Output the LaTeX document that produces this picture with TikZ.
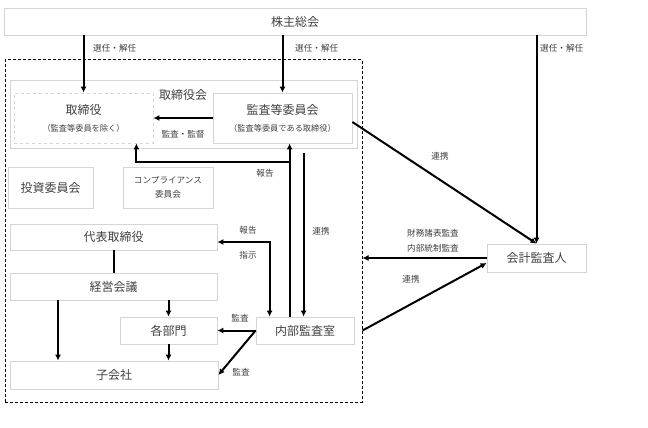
\documentclass[tikz,border=0pt]{standalone}
\usepackage{fontspec}
\setmainfont{Noto Sans CJK JP}
\usetikzlibrary{arrows.meta,positioning}
\definecolor{boxgray}{HTML}{D4D4D4}
\definecolor{txtgray}{HTML}{404040}
\tikzset{
	box/.style={draw=boxgray, line width=0.8pt, text=txtgray, inner sep=0pt, align=center,
		font=\fontsize{12}{14}\selectfont},
	lbl/.style={text=txtgray, inner sep=0pt, font=\fontsize{8.6}{10}\selectfont},
	arr/.style={line width=2pt, -{Latex[length=6pt,width=6pt]}},
	dblarr/.style={line width=2pt, {Latex[length=6pt,width=6pt]}-{Latex[length=6pt,width=6pt]}}
}
\newcommand{\subtxt}[1]{{\fontsize{8.2}{10}\selectfont #1}}
\begin{document}
\begin{tikzpicture}[x=1pt,y=-1pt]
		\useasboundingbox (0,0) rectangle (648,428);
		
		% boxes
		\node [box, minimum width=582, minimum height=27] (kabunushi) at (295,21.5) {株主総会};
		\node [draw, line width=1pt, dash pattern=on 3pt off 2pt, minimum width=357, minimum height=342, inner sep=0pt] (frame) at (183.5,231) {};
		\node [box, minimum width=347, minimum height=68] (torikaikai) at (183.5,114) {};
		\node [lbl, font=\fontsize{12}{14}\selectfont] (torikaiLbl) at (183,95) {取締役会};
		\node [box, dashed, minimum width=139, minimum height=50] (torishimari) at (83.5,118) {取締役\\[3pt]\subtxt{（監査等委員を除く）}};
		\node [box, minimum width=139, minimum height=50] (kansaiin) at (282.5,118) {監査等委員会\\[3pt]\subtxt{（監査等委員である取締役）}};
		\node [box, minimum width=85, minimum height=41] (toushi) at (50.5,187.5) {投資委員会};
		\node [box, minimum width=90, minimum height=41, font=\fontsize{8.6}{10}\selectfont] (compliance) at (168,187.5) {コンプライアンス\\[4pt]委員会};
		\node [box, minimum width=207, minimum height=26] (daihyo) at (113.5,237) {代表取締役};
		\node [box, minimum width=207, minimum height=27] (keiei) at (113.5,286.5) {経営会議};
		\node [box, minimum width=97, minimum height=27] (kakubu) at (168.5,330.5) {各部門};
		\node [box, minimum width=208, minimum height=28] (kogaisha) at (114,375) {子会社};
		\node [box, minimum width=98, minimum height=27] (naibu) at (305,330.5) {内部監査室};
		\node [box, minimum width=99, minimum height=28] (kaikei) at (536.5,258) {会計監査人};
		
		% from 株主総会
		\draw [arr] (torishimari.north |- kabunushi.south) -- (torishimari.north);
		\draw [arr] (kansaiin.north |- kabunushi.south) -- (kansaiin.north);
		\draw [arr] (kaikei.north |- kabunushi.south) -- (kaikei.north);
		\node [lbl, anchor=west] (sen1) at (93,48) {選任・解任};
		\node [lbl, anchor=west] (sen2) at (295,48) {選任・解任};
		\node [lbl, anchor=west] (sen3) at (540,48) {選任・解任};
		
		% 監査等委員会
		\draw [arr] (kansaiin.west) -- (torishimari.east);
		\node [lbl] (kantoku) at (183,134) {監査・監督};
		\draw [arr] ([yshift=-4pt]kansaiin.east) -- (kaikei.north);
		\node [lbl] (renkei1) at (440,156) {連携};
		
		% 内部監査室
		\coordinate (r1) at ([xshift=34pt]naibu.north west);
		\coordinate (r2) at ([xshift=48pt]naibu.north west);
		\coordinate (r3) at ([xshift=14pt]naibu.north west);
		\coordinate (jct) at (290,162);
		\draw [arr] (r1) -- (r1 |- kansaiin.south);
		\draw [arr] (jct) -| ([xshift=-17pt]torishimari.south east);
		\node [lbl] (houkoku1) at (265,173) {報告};
		\draw [arr] (r2 |- kansaiin.south) ++(0,10) -- (r2);
		\node [lbl] (renkei2) at (321,231) {連携};
		\draw [dblarr] ([yshift=-5pt]daihyo.east) -| (r3);
		\node [lbl] (houkoku2) at (248,230) {報告};
		\node [lbl] (shiji) at (248,255) {指示};
		\draw [arr] (naibu.west) -- (kakubu.east);
		\node [lbl] (kansa1) at (240,318) {監査};
		\draw [arr] (naibu.west) -- (kogaisha.east);
		\node [lbl] (kansa2) at (241,372) {監査};
		\draw [arr] (naibu.east -| frame.east) -- ([yshift=-5pt]kaikei.west);
		\node [lbl] (renkei3) at (411,279) {連携};
		
		% 会計監査人
		\draw [arr] (kaikei.west) -- (kaikei.west -| frame.east);
		\node [lbl] (zaimu) at (433,233) {財務諸表監査};
		\node [lbl] (naibutousei) at (433,248) {内部統制監査};
		
		% 執行側
		\coordinate (k1) at (58,300);
		\draw [line width=2pt] (daihyo.south) -- (keiei.north);
		\draw [arr] (k1 |- keiei.south) -- (k1 |- kogaisha.north);
		\draw [arr] (keiei.south -| kakubu.north) -- (kakubu.north);
		\draw [arr] (kakubu.south) -- (kakubu.south |- kogaisha.north);
\end{tikzpicture}
\end{document}
